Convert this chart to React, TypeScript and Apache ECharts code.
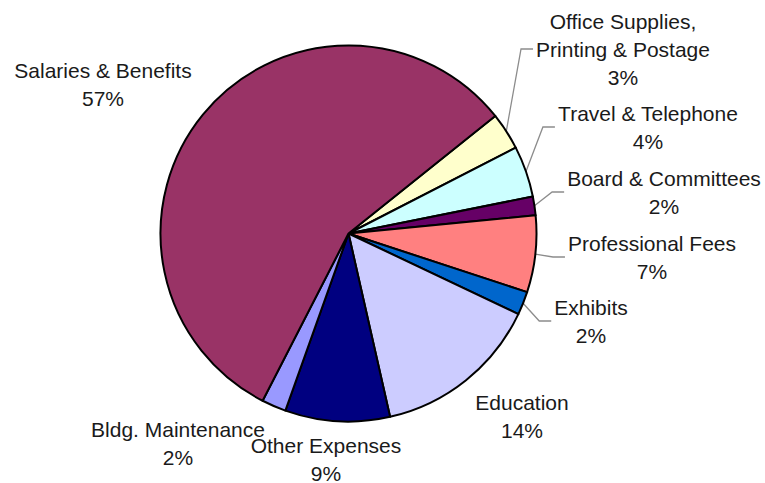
import React, { useEffect, useRef } from "react";
import * as echarts from "echarts";

const categories = [
  "Office Supplies,\nPrinting & Postage",
  "Travel & Telephone",
  "Board & Committees",
  "Professional Fees",
  "Exhibits",
  "Education",
  "Other Expenses",
  "Bldg. Maintenance",
  "Salaries & Benefits",
];
const shares = [3.2, 4.4, 1.6, 6.6, 2.0, 14.4, 9.0, 2.1, 56.7];
const sliceColors = [
  "#FFFFCC",
  "#CCFFFF",
  "#660066",
  "#FF8080",
  "#0066CC",
  "#CCCCFF",
  "#000080",
  "#9999FF",
  "#993366",
];
const hasLeader = [true, true, true, true, true, false, false, false, false];
// label block centres (layout, px)
const labelCenters = [
  [623, 49],
  [648, 127],
  [664, 192],
  [652, 257],
  [591, 321],
  [522, 416],
  [326, 459],
  [178, 443],
  [103, 84],
];

const CX = 348.5;
const CY = 233.5;
const R = 188;
const START = 38.7;

export default function App() {
  const ref = useRef<HTMLDivElement>(null);
  useEffect(() => {
    if (!ref.current) return;
    const chart = echarts.init(ref.current, undefined, { renderer: "svg" });
    const total = shares.reduce((a, b) => a + b, 0);
    const midPoint = (i: number) => {
      let before = 0;
      for (let k = 0; k < i; k++) before += shares[k];
      const deg = START - ((before + shares[i] / 2) / total) * 360;
      const rad = (deg * Math.PI) / 180;
      return [CX + R * Math.cos(rad), CY - R * Math.sin(rad)];
    };
    chart.setOption({
      animation: false,
      backgroundColor: "#ffffff",
      series: [
        {
          type: "pie",
          center: [CX, CY],
          radius: R,
          startAngle: START,
          clockwise: true,
          avoidLabelOverlap: false,
          silent: true,
          percentPrecision: 0,
          itemStyle: { borderColor: "#000000", borderWidth: 2 },
          label: {
            show: true,
            position: "outside",
            formatter: "{b}\n{d}%",
            color: "#1a1a1a",
            fontFamily: "'Liberation Sans', Arial, sans-serif",
            fontSize: 21,
            lineHeight: 28,
            align: "center",
          },
          labelLine: {
            show: true,
            length: 12,
            length2: 10,
            lineStyle: { color: "#8c8c8c", width: 1.3 },
          },
          labelLayout: (params: any) => {
            const i = params.dataIndex;
            const [lx, ly] = labelCenters[i];
            const w = params.labelRect ? params.labelRect.width : 0;
            const left = lx - w / 2;
            const res: any = {
              x: lx,
              y: ly,
              align: "center",
              verticalAlign: "middle",
            };
            if (hasLeader[i]) {
              const p0 =
                params.labelLinePoints && params.labelLinePoints[0]
                  ? params.labelLinePoints[0]
                  : midPoint(i);
              res.labelLinePoints = [p0, [left - 15, ly], [left - 3, ly]];
            }
            return res;
          },
          data: categories.map((name, i) => ({
            name,
            value: shares[i],
            itemStyle: { color: sliceColors[i] },
            labelLine: { show: hasLeader[i] },
          })),
        },
      ],
    });
    return () => chart.dispose();
  }, []);
  return (
    <div
      ref={ref}
      style={{
        position: "fixed",
        left: 0,
        top: 0,
        width: 765,
        height: 483,
        background: "#ffffff",
      }}
    />
  );
}
